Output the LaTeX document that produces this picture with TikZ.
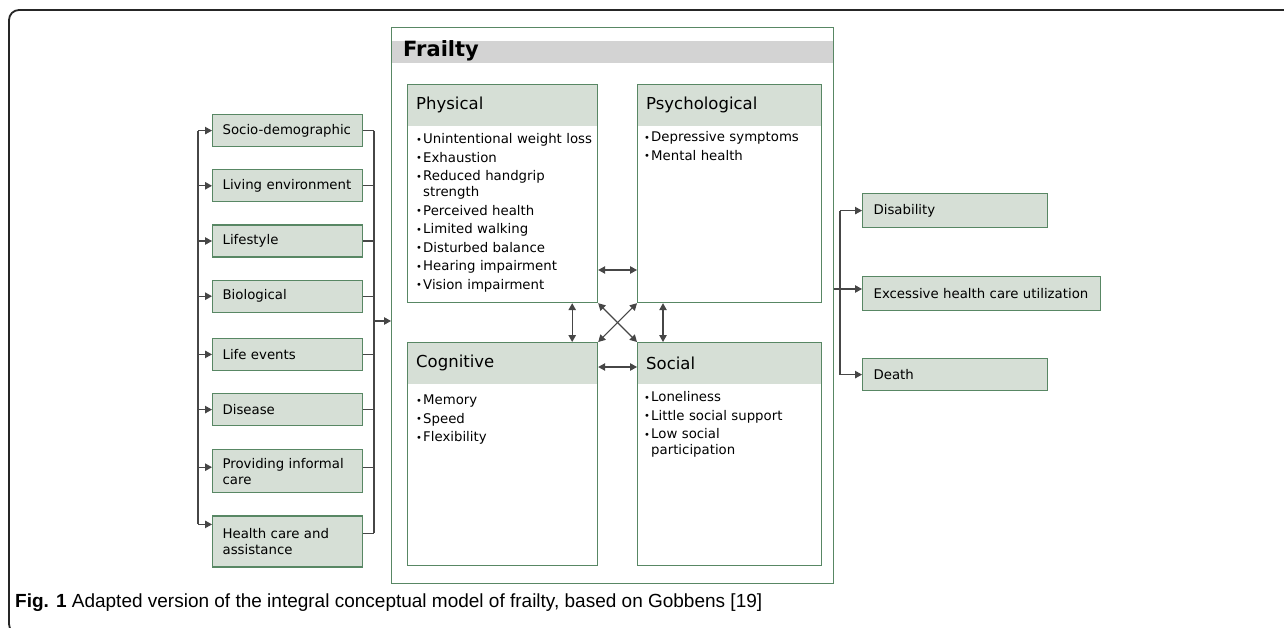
\documentclass[tikz,border=0pt]{standalone}
\usepackage{fontspec}
\setmainfont{DejaVu Sans}
\newfontfamily\capfont{Liberation Sans}
\usetikzlibrary{arrows.meta,positioning}
\definecolor{boxfill}{RGB}{214,223,214}
\definecolor{boxline}{RGB}{88,135,100}
\definecolor{frailbar}{RGB}{211,211,211}
\definecolor{wirec}{RGB}{70,70,70}
\newcommand{\li}{\par\hangindent=7pt\hangafter=1\noindent\makebox[7pt][l]{\raisebox{0.5pt}{\scalebox{0.75}{•}}}}

\begin{document}
\begin{tikzpicture}[x=1pt,y=-1pt,
  txt/.style={font=\fontsize{13.3}{16}\selectfont},
  factor/.style={txt, draw=boxline, fill=boxfill, line width=1.2pt, text width=130pt,
    inner xsep=10pt, inner ysep=0pt, align=left, minimum height=32pt},
  outcome/.style={factor, inner xsep=11pt, minimum height=34pt, anchor=north west},
  dombox/.style={draw=boxline, line width=1.2pt, anchor=north west, inner sep=0pt,
    path picture={\fill[boxfill] (path picture bounding box.north west)
      rectangle ([yshift=-41pt]path picture bounding box.north east);}},
  head/.style={anchor=west, inner sep=0pt, font=\fontsize{16.5}{20}\selectfont},
  items/.style={txt, anchor=north west, inner sep=0pt, align=left,
    execute at begin node={\setlength{\parskip}{2.5pt}}},
  wire/.style={draw=wirec, line width=1.1pt},
  arr/.style={wire, -{Triangle[length=7pt,width=7.5pt]}},
  dbl/.style={wire, {Triangle[length=7pt,width=7.5pt]}-{Triangle[length=7pt,width=7.5pt]}}]
\useasboundingbox (0,0) rectangle (1284,628);
% frame
\draw[line width=1.8pt, black!85, rounded corners=10pt] (1290,10) -| (9,634) -- (60,634);
% frailty box
\node[draw=boxline, line width=1.3pt, minimum width=442pt, minimum height=556pt,
  anchor=north west, inner sep=0pt,
  path picture={\fill[frailbar] ([yshift=-13pt]path picture bounding box.north west)
    rectangle ([yshift=-35pt]path picture bounding box.north east);}] (frailty) at (391,27) {};
\node[anchor=west, inner sep=0pt, font=\bfseries\fontsize{21}{25}\selectfont] (title)
  at ([xshift=12pt,yshift=-24pt]frailty.north west) {Frailty};
% domains
\node[dombox, minimum width=190pt, minimum height=218pt] (phys) at (407,84) {};
\node[dombox, minimum width=184pt, minimum height=218pt] (psych) at (637,84) {};
\node[dombox, minimum width=190pt, minimum height=223pt] (cog) at (407,342) {};
\node[dombox, minimum width=184pt, minimum height=223pt] (soc) at (637,342) {};
\node[head] (physh) at ([xshift=9pt,yshift=-21pt]phys.north west) {Physical};
\node[head] (psychh) at ([xshift=9pt,yshift=-21pt]psych.north west) {Psychological};
\node[head] (cogh) at ([xshift=9pt,yshift=-21pt]cog.north west) {Cognitive};
\node[head] (soch) at ([xshift=9pt,yshift=-21pt]soc.north west) {Social};
\node[items, text width=180pt] (physl) at ([xshift=9pt,yshift=-41pt]phys.north west)
  {\li Unintentional weight loss \li Exhaustion \li Reduced handgrip\newline strength
   \li Perceived health \li Limited walking \li Disturbed balance
   \li Hearing impairment \li Vision impairment\par};
\node[items, text width=170pt] (psychl) at ([xshift=7pt,yshift=-39pt]psych.north west)
  {\li Depressive symptoms \li Mental health\par};
\node[items, text width=180pt] (cogl) at ([xshift=9pt,yshift=-44pt]cog.north west)
  {\li Memory \li Speed \li Flexibility\par};
\node[items, text width=170pt] (socl) at ([xshift=7pt,yshift=-41pt]soc.north west)
  {\li Loneliness \li Little social support \li Low social\newline participation\par};
% links between domains
\draw[dbl] ([yshift=-186pt]phys.north east) -- ([yshift=-186pt]psych.north west);
\draw[dbl] ([yshift=-25pt]cog.north east) -- ([yshift=-25pt]soc.north west);
\draw[dbl] ([xshift=-26pt]phys.south east) -- ([xshift=-26pt]cog.north east);
\draw[dbl] ([xshift=26pt]psych.south west) -- ([xshift=26pt]soc.north west);
\draw[dbl] (phys.south east) -- (soc.north west);
\draw[dbl] (psych.south west) -- (cog.north east);
% factors
\node[factor, anchor=north west] (socio) at (212,114) {Socio-demographic};
\node[factor, below=22pt of socio] (living) {Living environment};
\node[factor, below=22pt of living] (lifestyle) {Lifestyle};
\node[factor, below=22pt of lifestyle] (bio) {Biological};
\node[factor, below=25pt of bio] (events) {Life events};
\node[factor, below=22pt of events] (disease) {Disease};
\node[factor, below=23pt of disease, minimum height=43pt] (care) {Providing informal\\care};
\node[factor, below=22pt of care, minimum height=51pt] (health) {Health care and\\assistance};
\coordinate (lbus) at (198,0);
\coordinate (rbus) at (374,0);
\coordinate (carein) at ([yshift=-18pt]care.north west);
\coordinate (careout) at ([yshift=-18pt]care.north east);
\coordinate (healthin) at ([yshift=-9pt]health.north west);
\coordinate (healthout) at ([yshift=-18pt]health.north east);
\foreach \f in {socio,living,lifestyle,bio,events,disease}{
  \draw[arr] (\f.west -| lbus) -- (\f.west);
  \draw[wire] (\f.east) -- (\f.east -| rbus);
}
\draw[arr] (carein -| lbus) -- (carein);
\draw[wire] (careout) -- (careout -| rbus);
\draw[arr] (healthin -| lbus) -- (healthin);
\draw[wire] (healthout) -- (healthout -| rbus);
\draw[wire] (socio.west -| lbus) -- (healthin -| lbus);
\draw[wire] (socio.east -| rbus) -- (healthout -| rbus);
\coordinate (rin) at (374,321);
\draw[arr] (rin) -- (rin -| frailty.west);
% outcomes
\node[outcome, text width=163pt] (disab) at (862,193) {Disability};
\node[outcome, text width=216pt] (excess) at (862,276) {Excessive health care utilization};
\node[outcome, text width=163pt, minimum height=32pt] (death) at (862,358) {Death};
\coordinate (obus) at (840,289);
\draw[wire] (obus -| frailty.east) -- (obus);
\draw[wire] (disab.west -| obus) -- (death.west -| obus);
\draw[arr] (disab.west -| obus) -- (disab.west);
\draw[arr] (obus) -- (obus -| excess.west);
\draw[arr] (death.west -| obus) -- (death.west);
% caption
\node[anchor=west, inner sep=0pt, font=\capfont\fontsize{19}{22}\selectfont] (cap) at (15,603)
  {\textbf{Fig. 1} Adapted version of the integral conceptual model of frailty, based on Gobbens [19]};
\end{tikzpicture}
\end{document}
